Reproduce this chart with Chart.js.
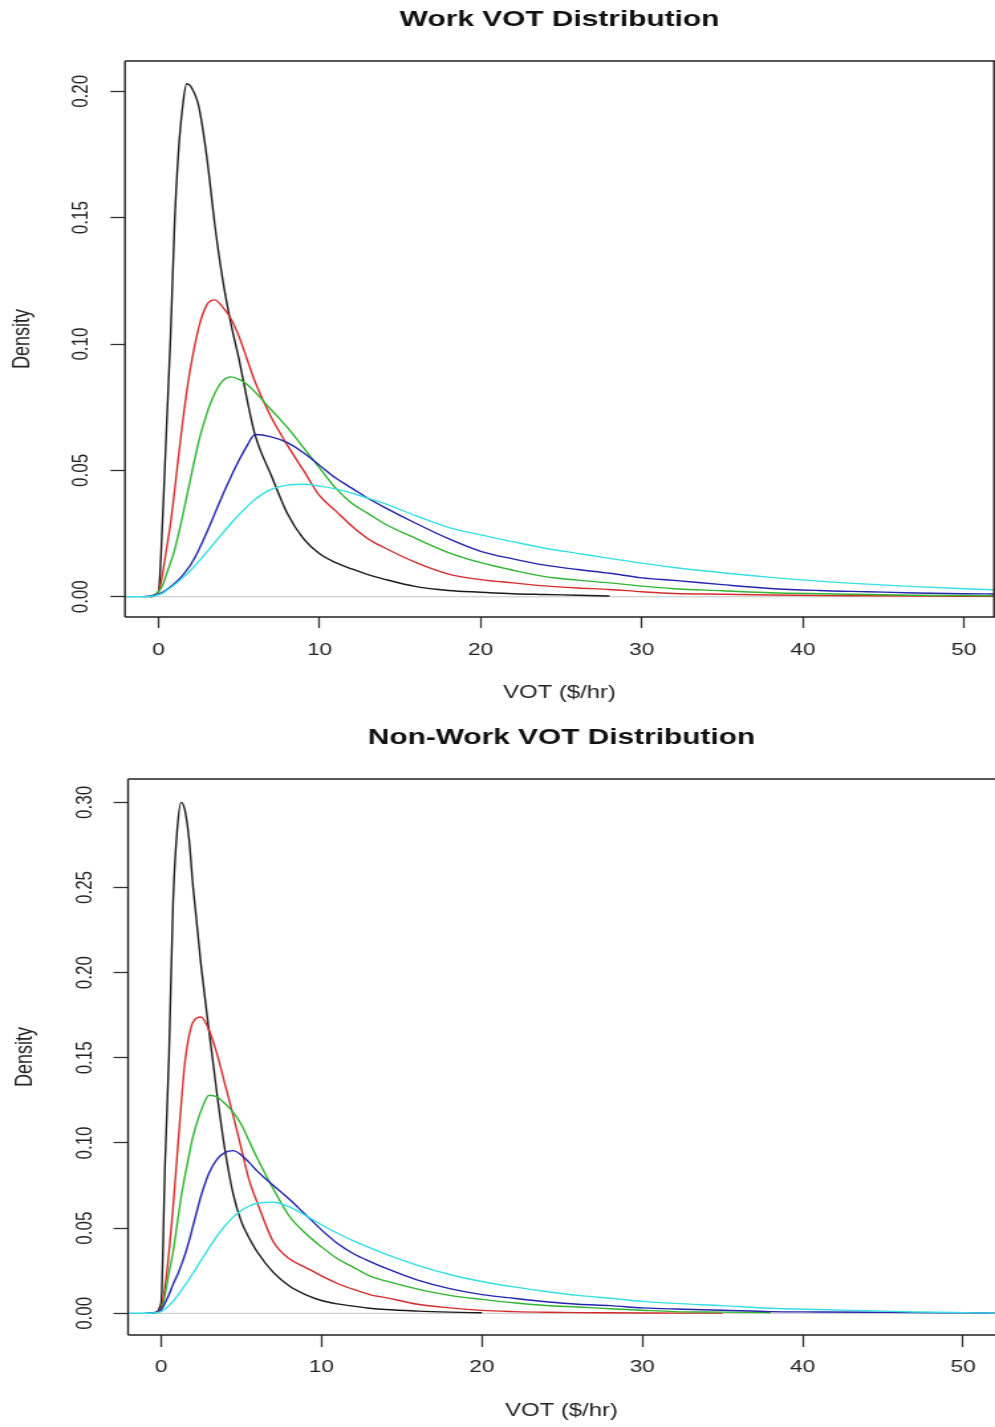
<!DOCTYPE html>
<html>
<head>
<meta charset="utf-8">
<title>VOT Distribution</title>
<script src="https://cdn.jsdelivr.net/npm/chart.js@4.4.1/dist/chart.umd.min.js"></script>
<style>
    html, body { margin: 0; padding: 0; background: #fff; }
    #page { position: relative; width: 995px; height: 1427px; overflow: hidden; }
    #page canvas { position: absolute; left: 0; }
</style>
</head>
<body>
<div id="page">
    <!-- drawn at 750px wide and stretched to the page width, like the original export -->
    <canvas id="workChart" width="750" height="715" style="top:0;width:995px;height:715px"></canvas>
    <canvas id="nonWorkChart" width="750" height="712" style="top:715px;width:995px;height:712px"></canvas>
</div>
<script>
// VOT density curves - work and non-work trips

// --- Data ---

// VOT ($/hr) where every density curve is sampled
const votGrid = [-2.1, -1, -0.5, 0, 0.25, 0.5, 0.75, 1, 1.25, 1.5, 1.75, 2, 2.5, 3, 3.5, 4, 4.5, 5, 5.5, 6,
    7, 8, 9, 10, 11, 12, 13, 14, 16, 18, 20, 22, 24, 26, 28, 30, 32, 35, 38, 41, 44, 47, 50, 52];

// Work trips
const workBlack = [null, null, 0, 0.002, 0.030, 0.067, 0.103, 0.148, 0.177, 0.194, 0.203, 0.202, 0.194, 0.174, 0.147, 0.125,
    0.108, 0.094, 0.078, 0.064, 0.048, 0.033, 0.023, 0.017, 0.0135, 0.011, 0.0088, 0.007, 0.004, 0.0025, 0.0018, 0.0012,
    0.0009, 0.0006, 0.0003, null, null, null, null, null, null, null, null, null];
const workRed = [null, null, 0, 0.002, 0.009, 0.019, 0.029, 0.042, 0.056, 0.069, 0.081, 0.091, 0.1065, 0.1155, 0.1175, 0.1145,
    0.110, 0.103, 0.094, 0.085, 0.071, 0.060, 0.050, 0.040, 0.034, 0.028, 0.023, 0.0195, 0.0135, 0.009, 0.0068, 0.0055,
    0.0043, 0.0035, 0.0029, 0.002, 0.0013, 0.001, 0.0007, 0.0005, 0.0004, 0.0003, 0.0002, 0.0002];
const workGreen = [null, null, 0, 0.002, 0.0045, 0.009, 0.0135, 0.0185, 0.025, 0.032, 0.0395, 0.047, 0.0615, 0.0725, 0.0805, 0.0855,
    0.087, 0.086, 0.084, 0.081, 0.074, 0.067, 0.059, 0.051, 0.043, 0.037, 0.033, 0.029, 0.023, 0.0175, 0.0135, 0.0105,
    0.008, 0.0066, 0.0055, 0.0042, 0.0032, 0.0024, 0.0016, 0.0012, 0.0009, 0.0006, 0.0005, 0.0004];
const workBlue = [null, 0, 0.0003, 0.001, 0.0018, 0.0028, 0.004, 0.0053, 0.0068, 0.0085, 0.0105, 0.0127, 0.0185, 0.0255, 0.033, 0.0405,
    0.0475, 0.054, 0.0598, 0.0642, 0.0633, 0.061, 0.057, 0.052, 0.047, 0.043, 0.039, 0.0355, 0.029, 0.023, 0.018, 0.015,
    0.0125, 0.0108, 0.0093, 0.0075, 0.0065, 0.0048, 0.0033, 0.0025, 0.002, 0.0015, 0.0012, 0.0011];
const workCyan = [0, 0, 0.0001, 0.0008, 0.0014, 0.0025, 0.0036, 0.0048, 0.0061, 0.0075, 0.009, 0.0105, 0.014, 0.0177, 0.0215, 0.0253,
    0.029, 0.0325, 0.0357, 0.0386, 0.0425, 0.0442, 0.0445, 0.0438, 0.0427, 0.041, 0.039, 0.037, 0.032, 0.0275, 0.0245, 0.0218,
    0.0192, 0.0172, 0.0152, 0.0133, 0.0116, 0.0095, 0.0077, 0.0062, 0.005, 0.004, 0.0032, 0.0027];

// Non-work trips
const nonWorkBlack = [null, null, 0, 0.006, 0.088, 0.152, 0.241, 0.283, 0.300, 0.295, 0.278, 0.250, 0.204, 0.165, 0.128, 0.095,
    0.070, 0.054, 0.044, 0.036, 0.024, 0.016, 0.011, 0.0075, 0.0055, 0.0042, 0.003, 0.0022, 0.0013, 0.0007, 0.0003,
    null, null, null, null, null, null, null, null, null, null, null, null, null];
const nonWorkRed = [null, null, 0, 0.003, 0.016, 0.036, 0.062, 0.092, 0.122, 0.148, 0.163, 0.171, 0.174, 0.166, 0.152, 0.134,
    0.116, 0.097, 0.078, 0.065, 0.042, 0.032, 0.027, 0.022, 0.0175, 0.014, 0.011, 0.0092, 0.0053, 0.0032, 0.0017, 0.001,
    0.0006, 0.0004, 0.0003, 0.0002, 0.0001, 0.0001, null, null, null, null, null, null];
const nonWorkGreen = [null, null, 0, 0.002, 0.011, 0.024, 0.036, 0.052, 0.068, 0.081, 0.093, 0.104, 0.119, 0.128, 0.127, 0.123,
    0.118, 0.111, 0.101, 0.091, 0.073, 0.057, 0.047, 0.039, 0.032, 0.027, 0.022, 0.019, 0.0142, 0.0105, 0.0082, 0.0062,
    0.0046, 0.0037, 0.0027, 0.0018, 0.001, 0.0007, 0.0004, null, null, null, null, null];
const nonWorkBlue = [null, 0, 0.0003, 0.002, 0.006, 0.011, 0.017, 0.022, 0.028, 0.0345, 0.0425, 0.0515, 0.069, 0.0825, 0.0905, 0.0945,
    0.0955, 0.093, 0.0885, 0.0835, 0.075, 0.067, 0.058, 0.049, 0.041, 0.035, 0.0305, 0.0265, 0.0195, 0.0145, 0.011, 0.0088,
    0.0068, 0.0053, 0.0045, 0.0032, 0.0025, 0.0018, 0.001, 0.0008, 0.0006, 0.0004, 0.0003, 0.0002];
const nonWorkCyan = [0, 0, 0.0002, 0.001, 0.0025, 0.0045, 0.007, 0.010, 0.0132, 0.0165, 0.020, 0.0237, 0.031, 0.0385, 0.0455, 0.0515,
    0.0565, 0.0603, 0.063, 0.0646, 0.0652, 0.0625, 0.0575, 0.052, 0.047, 0.0425, 0.0385, 0.0348, 0.0282, 0.0228, 0.0187, 0.0155,
    0.0128, 0.0105, 0.0088, 0.007, 0.0058, 0.0045, 0.003, 0.0022, 0.0015, 0.0008, 0.0004, 0.0002];

// zero reference line
const zeroLineX = [-2.1, 52];
const zeroLineY = [0, 0];

// axis ticks
const xTicks = [0, 10, 20, 30, 40, 50];
const workYTicks = [0, 0.05, 0.10, 0.15, 0.20];
const nonWorkYTicks = [0, 0.05, 0.10, 0.15, 0.20, 0.25, 0.30];

// --- Styling ---

const FONT = "'Liberation Sans', Arial, Helvetica, sans-serif";
const SERIES_COLORS = ['#1a1a1a', '#d42c2c', '#2fb52f', '#2424ad', '#35dfe3'];

Chart.defaults.font.family = FONT;
Chart.defaults.color = '#222';

// box round the plot region (R style frame)
const plotFrame = {
    id: 'plotFrame',
    afterDatasetsDraw(chart, args, opts) {
        const { ctx, chartArea: a } = chart;
        ctx.save();
        ctx.strokeStyle = opts.color;
        ctx.lineWidth = opts.width;
        ctx.beginPath();
        ctx.moveTo(a.left, a.top);
        ctx.lineTo(a.left, a.bottom);
        ctx.moveTo(a.left, a.top);
        ctx.lineTo(chart.width, a.top);
        ctx.moveTo(a.left, a.bottom);
        ctx.lineTo(chart.width, a.bottom);
        if (opts.right) {
            ctx.moveTo(a.right, a.top);
            ctx.lineTo(a.right, a.bottom);
        }
        ctx.stroke();
        ctx.restore();
    }
};

function toPoints(xs, ys) {
    return xs.map((x, i) => ({ x: x, y: ys[i] }));
}

function makeDatasets(series) {
    const sets = [{
        label: 'zero',
        data: toPoints(zeroLineX, zeroLineY),
        borderColor: '#c4c4c4',
        borderWidth: 1,
        order: 10
    }];
    series.forEach((ys, i) => {
        sets.push({
            label: 'curve ' + (i + 1),
            data: toPoints(votGrid, ys),
            borderColor: SERIES_COLORS[i],
            borderWidth: 1.4,
            cubicInterpolationMode: 'monotone',
            order: 5 - i // later curves sit on top
        });
    });
    return sets;
}

// --- Panels ---

function buildPanel(canvasId, cfg) {
    const canvas = document.getElementById(canvasId);
    const tickGrid = {
        display: true,
        drawOnChartArea: false,
        drawTicks: true,
        tickColor: '#333',
        tickWidth: 1.3
    };

    return new Chart(canvas, {
        type: 'line',
        data: { datasets: makeDatasets(cfg.series) },
        options: {
            responsive: false,
            devicePixelRatio: 1,
            animation: false,
            events: [],
            layout: { padding: { left: 0, right: cfg.padRight, top: 0, bottom: 0 } },
            elements: { point: { radius: 0 } },
            plugins: {
                legend: { display: false },
                tooltip: { enabled: false },
                title: {
                    display: true,
                    text: cfg.title,
                    fullSize: false,
                    color: '#111',
                    font: { size: 22.5, weight: 'bold' },
                    padding: { top: cfg.titleTop, bottom: cfg.titleBottom }
                },
                plotFrame: { color: '#222', width: 1.4, right: cfg.frameRight }
            },
            scales: {
                x: {
                    type: 'linear',
                    min: cfg.xMin,
                    max: cfg.xMax,
                    afterBuildTicks: s => { s.ticks = xTicks.map(v => ({ value: v })); },
                    afterFit: s => { s.height = cfg.xAxisHeight; },
                    grid: Object.assign({ tickLength: cfg.xTickLen }, tickGrid),
                    border: { display: false },
                    ticks: {
                        autoSkip: false,
                        maxRotation: 0,
                        minRotation: 0,
                        padding: cfg.xTickPad,
                        color: '#222',
                        font: { size: 17 },
                        callback: v => String(v)
                    },
                    title: {
                        display: true,
                        text: 'VOT ($/hr)',
                        color: '#222',
                        font: { size: 18 },
                        padding: { top: 0, bottom: cfg.xTitleBottom }
                    }
                },
                y: {
                    type: 'linear',
                    min: cfg.yMin,
                    max: cfg.yMax,
                    afterBuildTicks: s => { s.ticks = cfg.yTicks.map(v => ({ value: v })); },
                    afterFit: s => { s.width = cfg.yAxisWidth; },
                    grid: Object.assign({ tickLength: 11 }, tickGrid),
                    border: { display: false },
                    ticks: {
                        autoSkip: false,
                        minRotation: 90,
                        maxRotation: 90,
                        crossAlign: 'center',
                        padding: cfg.yTickPad,
                        color: '#222',
                        font: { size: 17 },
                        callback: v => v.toFixed(2)
                    },
                    title: {
                        display: true,
                        text: 'Density',
                        color: '#222',
                        font: { size: 18 },
                        padding: { top: cfg.yTitleTop, bottom: 0 }
                    }
                }
            }
        },
        plugins: [plotFrame]
    });
}

buildPanel('workChart', {
    title: 'Work VOT Distribution',
    series: [workBlack, workRed, workGreen, workBlue, workCyan],
    yTicks: workYTicks,
    xMin: -2.08, xMax: 51.87,
    yMin: -0.0080, yMax: 0.2120,
    padRight: 0.75,
    frameRight: true,
    titleTop: 6.5, titleBottom: 27.5,
    yAxisWidth: 94.2, yTickPad: 5.6, yTitleTop: 5.8,
    xAxisHeight: 98, xTickLen: 11, xTickPad: 11.8, xTitleBottom: 11.2
});

buildPanel('nonWorkChart', {
    title: 'Non-Work VOT Distribution',
    series: [nonWorkBlack, nonWorkRed, nonWorkGreen, nonWorkBlue, nonWorkCyan],
    yTicks: nonWorkYTicks,
    xMin: -2.057, xMax: 51.99,
    yMin: -0.01274, yMax: 0.3137,
    padRight: 0,
    frameRight: false,
    titleTop: 9.5, titleBottom: 27.5,
    yAxisWidth: 96.5, yTickPad: 4.9, yTitleTop: 8.0,
    xAxisHeight: 92, xTickLen: 12, xTickPad: 9.8, xTitleBottom: 5.2
});
</script>
</body>
</html>
